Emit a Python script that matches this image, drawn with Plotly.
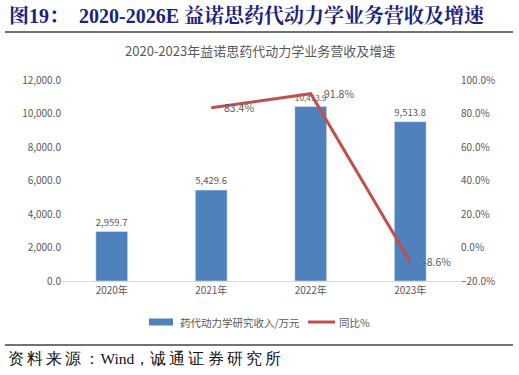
import plotly.graph_objects as go

categories = ["2020年", "2021年", "2022年", "2023年"]
revenue = [2959.7, 5429.6, 10413.9, 9513.8]
growth_cats = ["2021年", "2022年", "2023年"]
growth = [83.4, 91.8, -8.6]

W, H = 519, 375
L, R, T, B = 62, 59, 80, 94
pw, ph = W - L - R, H - T - B

def px(x):
    return (x - L) / pw

def py(y):
    return (H - B - y) / ph

GRAY = "#595959"
BLUE = "#4F81BD"
RED = "#C0504D"
fig = go.Figure()
fig.add_trace(go.Bar(
    x=categories, y=revenue, name="药代动力学研究收入/万元",
    marker_color=BLUE, width=0.32,
    text=[f"{v:,.1f}" for v in revenue], textposition="outside",
    textfont=dict(size=10.5, color=GRAY), cliponaxis=False,
))
fig.add_trace(go.Scatter(
    x=growth_cats, y=growth, name="同比%", yaxis="y2",
    mode="lines", line=dict(color=RED, width=3),
))

ann = [
    dict(text="<b>图19：  2020-2026E 益诺思药代动力学业务营收及增速</b>", x=px(7), y=py(15),
         xref="paper", yref="paper", xanchor="left", yanchor="middle", showarrow=False,
         font=dict(family="Liberation Serif, Noto Serif CJK SC, serif", size=20, color="#1C2280")),
    dict(text="2020-2023年益诺思药代动力学业务营收及增速", x=px(260), y=py(50),
         xref="paper", yref="paper", xanchor="center", yanchor="middle", showarrow=False,
         font=dict(size=13, color=GRAY)),
    dict(text="\u2009".join("资料来源：") + "Wind，" + "\u2009".join("诚通证券研究所"),
         x=px(6), y=py(358),
         xref="paper", yref="paper", xanchor="left", yanchor="middle", showarrow=False,
         font=dict(family="Liberation Serif, serif", size=15.5, color="#111111")),
    dict(text="药代动力学研究收入/万元", x=px(178), y=py(322),
         xref="paper", yref="paper", xanchor="left", yanchor="middle", showarrow=False,
         font=dict(size=10.5, color=GRAY)),
    dict(text="同比%", x=px(337), y=py(322),
         xref="paper", yref="paper", xanchor="left", yanchor="middle", showarrow=False,
         font=dict(size=10.5, color=GRAY)),
]
for c, g in zip(growth_cats, growth):
    ann.append(dict(text=f"{g:.1f}%", x=c, y=g, xref="x", yref="y2", xanchor="left",
                    yanchor="middle", xshift=11, showarrow=False,
                    font=dict(size=10.5, color=GRAY)))

fig.update_layout(
    width=W, height=H, margin=dict(l=L, r=R, t=T, b=B),
    paper_bgcolor="white", plot_bgcolor="white",
    font=dict(family="Noto Sans CJK SC, sans-serif", color=GRAY, size=10),
    showlegend=False,
    xaxis=dict(showgrid=False, showline=True, linecolor="#D9D9D9", linewidth=1,
               ticks="", tickfont=dict(size=10, color=GRAY)),
    yaxis=dict(range=[0, 12000], dtick=2000, tickformat=",.1f", showgrid=False,
               zeroline=False, ticks="", tickfont=dict(size=10, color=GRAY)),
    yaxis2=dict(range=[-20, 100], dtick=20, ticksuffix="%", tickformat=".1f",
                overlaying="y", side="right", showgrid=False, zeroline=False,
                ticks="", tickfont=dict(size=10, color=GRAY)),
    annotations=ann,
    shapes=[
        dict(type="line", xref="paper", yref="paper", x0=px(5), x1=px(513), y0=py(32), y1=py(32),
             line=dict(color="#444444", width=1.5)),
        dict(type="line", xref="paper", yref="paper", x0=px(5), x1=px(513), y0=py(345), y1=py(345),
             line=dict(color="#444444", width=1.5)),
        dict(type="rect", xref="paper", yref="paper", x0=px(149), x1=px(173), y0=py(318.5), y1=py(325.5),
             fillcolor=BLUE, line=dict(width=0)),
        dict(type="line", xref="paper", yref="paper", x0=px(308), x1=px(335), y0=py(322), y1=py(322),
             line=dict(color=RED, width=3)),
    ],
)
fig.write_html("out.html")
